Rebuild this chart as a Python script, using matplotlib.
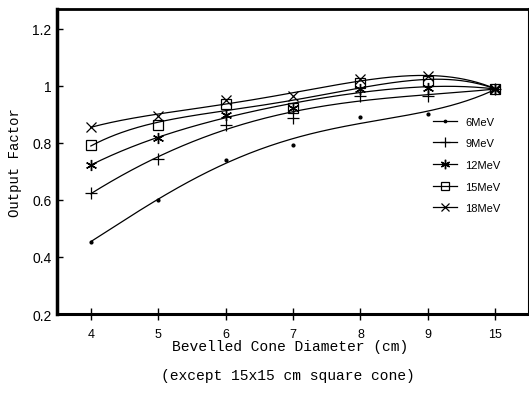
import numpy as np
import matplotlib.pyplot as plt

### Data
diameters = ['4', '5', '6', '7', '8', '9', '15']
f_6mev = [0.454, 0.600, 0.741, 0.791, 0.892, 0.900, 0.990]
f_9mev = [0.623, 0.745, 0.863, 0.888, 0.963, 0.963, 0.990]
f_12mev = [0.723, 0.816, 0.899, 0.924, 0.989, 0.992, 0.990]
f_15mev = [0.791, 0.863, 0.935, 0.924, 1.010, 1.017, 0.990]
f_18mev = [0.856, 0.895, 0.949, 0.963, 1.024, 1.035, 0.990]

series = [
    ('6MeV', f_6mev, dict(marker='.', markersize=4)),
    ('9MeV', f_9mev, dict(marker='+', markersize=9, markeredgewidth=0.9)),
    ('12MeV', f_12mev, dict(marker=(6, 2, 0), markersize=8, markeredgewidth=1.0)),
    ('15MeV', f_15mev, dict(marker='s', markersize=6.5, markerfacecolor='none', markeredgewidth=0.9)),
    ('18MeV', f_18mev, dict(marker='x', markersize=7, markeredgewidth=0.9)),
]

### Plot
fig = plt.figure(figsize=(5.29, 4.02), dpi=100)
ax = fig.add_axes([0.108, 0.2164, 0.892, 0.759])

x = np.arange(len(diameters))
xs = np.linspace(x[0], x[-1], 200)
for name, vals, style in series:
    # smooth curve through the measured points, markers at the points
    coef = np.polyfit(x, vals, 4)
    ax.plot(xs, np.polyval(coef, xs), color='black', lw=0.9)
    ax.plot(x, vals, color='black', lw=0, **style)
    ax.plot([], [], color='black', lw=0.9, label=name, **style)

ax.set_xlim(-0.5, 6.5)
ax.set_ylim(0.2, 1.27)
ax.set_xticks(x)
ax.set_xticklabels(diameters, family='Liberation Sans', fontsize=9)
ax.set_yticks([0.2, 0.4, 0.6, 0.8, 1.0, 1.2])
ax.set_yticklabels(['0.2', '0.4', '0.6', '0.8', '1', '1.2'], family='Liberation Sans', fontsize=10)
ax.tick_params(axis='x', direction='inout', length=8, width=1, pad=6)
ax.tick_params(axis='y', direction='in', length=4, width=1, pad=4)

for side, w in [('left', 2.5), ('bottom', 2.2), ('top', 2.0), ('right', 1.5)]:
    ax.spines[side].set_linewidth(w)

ax.set_ylabel('Output Factor', family='Liberation Mono', fontsize=10, labelpad=7)
fig.text(0.548, 0.137, 'Bevelled Cone Diameter (cm)', family='Liberation Mono',
         fontsize=10.5, ha='center', va='center')
fig.text(0.545, 0.065, '(except 15x15 cm square cone)', family='Liberation Mono',
         fontsize=10.5, ha='center', va='center')

ax.legend(loc='upper left', bbox_to_anchor=(0.775, 0.68), frameon=False,
          prop={'family': 'Liberation Sans', 'size': 8}, handlelength=2.2,
          labelspacing=1.05, handletextpad=0.7, markerscale=0.85)

plt.savefig('out.png', dpi=100)
plt.close(fig)
